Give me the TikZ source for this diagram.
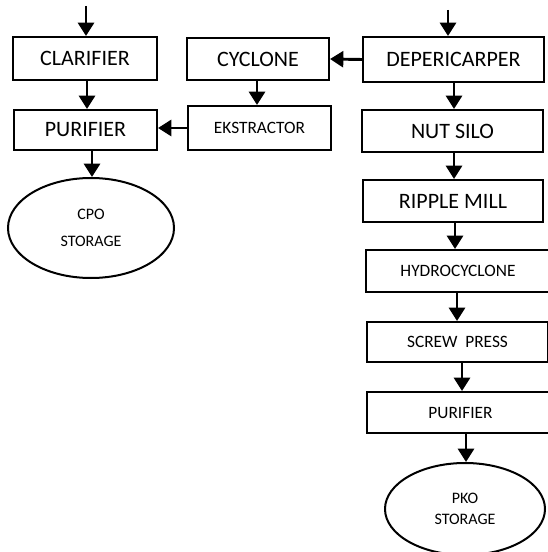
\documentclass[tikz,border=0pt]{standalone}
\usepackage{fontspec}
\setmainfont{Carlito}
\usetikzlibrary{arrows.meta,calc,shapes.geometric}
\begin{document}
\begin{tikzpicture}[x=0.75pt,y=-0.75pt,
  box/.style={draw,line width=1.5pt,inner sep=0pt,align=center},
  bigbox/.style={box,font=\fontsize{16.5}{19}\selectfont},
  smallbox/.style={box,font=\fontsize{13}{15}\selectfont},
  store/.style={draw,ellipse,line width=1.5pt,inner sep=0pt,align=center,font=\fontsize{12}{18}\selectfont},
  arr/.style={line width=2.2pt,-{Triangle[length=10pt,width=12pt]}}]
\useasboundingbox (0,0) rectangle (548,552);
\clip (0,0) rectangle (548,552);
% left column
\node[bigbox,minimum width=144*0.75pt,minimum height=43*0.75pt] (clar) at (85,58.5) {CLARIFIER};
\node[bigbox,minimum width=143*0.75pt,minimum height=40*0.75pt] (pur1) at (85.5,130) {PURIFIER};
\node[store,minimum width=166*0.75pt,minimum height=100*0.75pt] (cpo) at (91,228) {CPO\\[2pt]STORAGE};
% middle column
\node[bigbox,minimum width=142*0.75pt,minimum height=42*0.75pt] (cyc) at (258,59) {CYCLONE};
\node[smallbox,minimum width=143*0.75pt,minimum height=44*0.75pt] (eks) at (259.5,128) {EKSTRACTOR};
% right column
\node[bigbox,minimum width=181*0.75pt,minimum height=45*0.75pt] (dep) at (453.5,59.5) {DEPERICARPER};
\node[bigbox,minimum width=181*0.75pt,minimum height=42*0.75pt] (nut) at (452.5,131) {NUT SILO};
\node[bigbox,minimum width=180*0.75pt,minimum height=42*0.75pt] (rip) at (453,201) {RIPPLE MILL};
\node[smallbox,minimum width=184*0.75pt,minimum height=42*0.75pt] (hyd) at (458,271) {HYDROCYCLONE};
\node[smallbox,minimum width=181*0.75pt,minimum height=40*0.75pt] (scr) at (457.5,342) {SCREW\hspace{0.45em}PRESS};
\node[smallbox,minimum width=187*0.75pt,minimum height=41*0.75pt] (pur2) at (460.5,412.5) {PURIFIER};
\node[store,font=\fontsize{12}{14}\selectfont,minimum width=160*0.75pt,minimum height=92*0.75pt] (pko) at (465,509) {PKO\\[2pt]STORAGE};
% free ends
\coordinate (inL) at (86,6);
\coordinate (inR) at (448,10);
% connectors
\draw[arr] (inL) -- (inL |- clar.north);
\draw[arr] (inR) -- (inR |- dep.north);
\coordinate (c1) at ($(clar.south)+(2,0)$);
\draw[arr] (c1) -- (c1 |- pur1.north);
\coordinate (c2) at ($(pur1.south)+(6.5,0)$);
\draw[arr] (c2) -- (c2 |- cpo.north);
\draw[arr] (dep.west) -- (cyc.east);
\coordinate (c3) at ($(cyc.south)+(-1,0)$);
\draw[arr] (c3) -- (c3 |- eks.north);
\draw[arr] (eks.west) -- (pur1.east |- eks.west);
\coordinate (c4) at ($(dep.south)+(0.5,0)$);
\draw[arr] (c4) -- (c4 |- nut.north);
\coordinate (c5) at ($(nut.south)+(1.5,0)$);
\draw[arr] (c5) -- (c5 |- rip.north);
\coordinate (c6) at ($(rip.south)+(2,0)$);
\draw[arr] (c6) -- (c6 |- hyd.north);
\coordinate (c7) at ($(hyd.south)+(-1,0)$);
\draw[arr] (c7) -- (c7 |- scr.north);
\coordinate (c8) at ($(scr.south)+(4.5,0)$);
\draw[arr] (c8) -- (c8 |- pur2.north);
\coordinate (c9) at ($(pur2.south)+(5.5,0)$);
\draw[arr] (c9) -- (c9 |- pko.north);
\end{tikzpicture}
\end{document}
